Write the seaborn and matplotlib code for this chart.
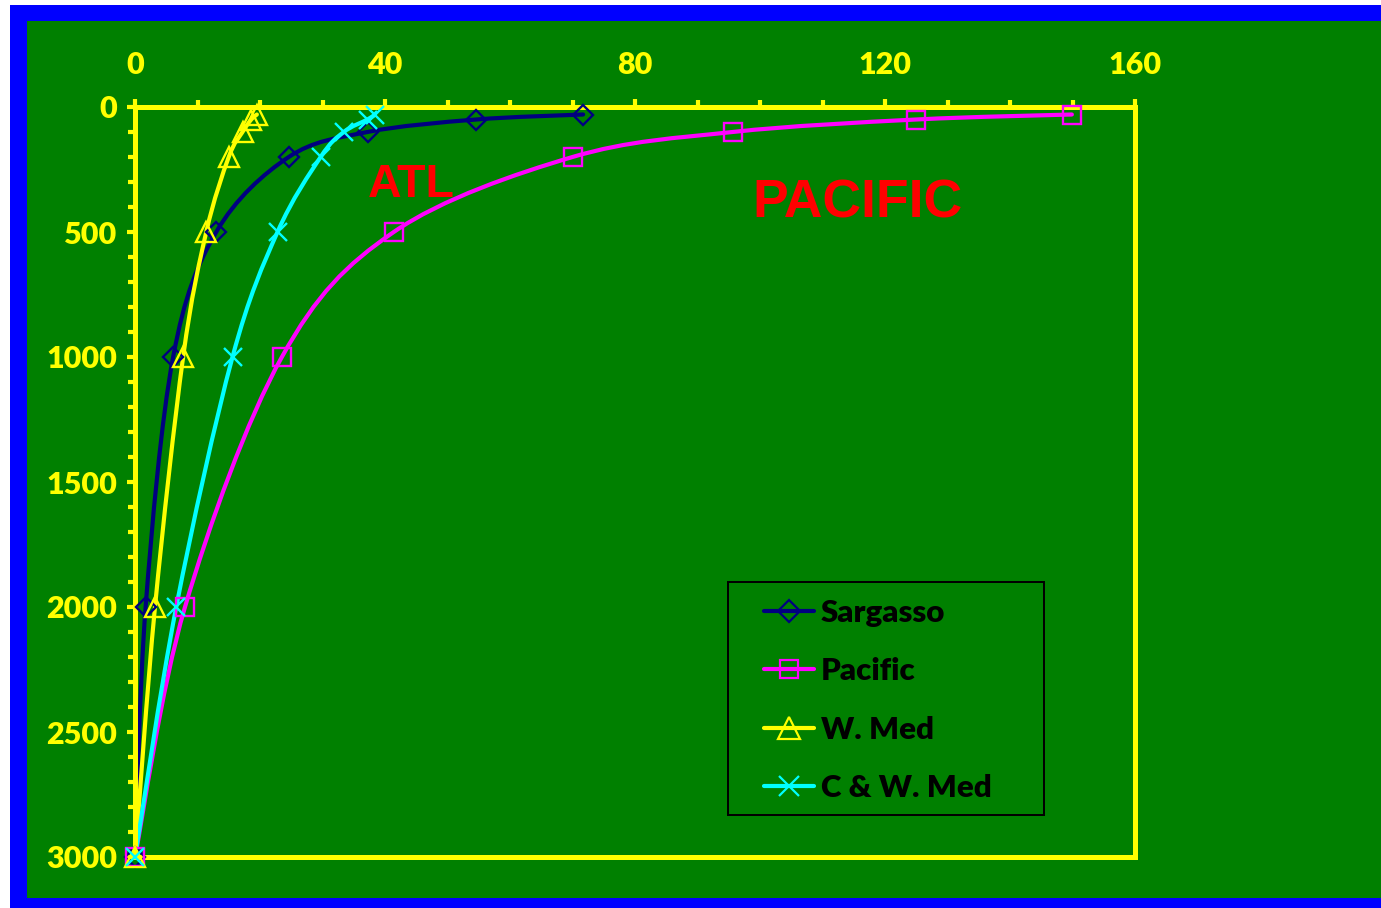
import numpy as np
import pandas as pd
import matplotlib
matplotlib.use("Agg")
import matplotlib.pyplot as plt
import seaborn as sns
from matplotlib.path import Path
from matplotlib.patches import PathPatch, Rectangle
from matplotlib.lines import Line2D
from matplotlib.ticker import MultipleLocator

# Depth (m) and concentration for each basin
depth = [30, 50, 100, 200, 500, 1000, 2000, 3000]
sargasso = [71.7, 54.6, 37.2, 24.6, 13.0, 6.1, 1.7, 0]
pacific = [149.9, 125.0, 95.6, 70.0, 41.4, 23.5, 8.0, 0]
w_med = [19.5, 18.6, 17.2, 15.0, 11.4, 7.7, 3.2, 0]
cw_med = [38.4, 37.2, 33.4, 29.7, 22.8, 15.6, 6.6, 0]

series_names = ["Sargasso", "Pacific", "W. Med", "C & W. Med"]
series_values = [sargasso, pacific, w_med, cw_med]
colors = ["#000080", "#FF00FF", "#FFFF00", "#00FFFF"]
markers = ["D", "s", "^", "x"]
msizes = [10.5, 13.0, 14.5, 13.5]

x_ticks = [0, 40, 80, 120, 160]
y_ticks = [0, 500, 1000, 1500, 2000, 2500, 3000]

GREEN = "#008000"
BLUE = "#0000FF"
YELLOW = "#FFFF00"

sns.set_theme(style="white")
plt.rcParams["font.family"] = ["Lato", "DejaVu Sans"]
plt.rcParams["font.weight"] = "heavy"

W, H = 1381, 908
fig = plt.figure(figsize=(W / 100, H / 100), dpi=100, facecolor=GREEN)

# Page border
def fig_rect(x0, y0, x1, y1, color):
    fig.patches.append(Rectangle((x0 / W, 1 - y1 / H), (x1 - x0) / W, (y1 - y0) / H,
                                 transform=fig.transFigure, facecolor=color,
                                 edgecolor="none", zorder=0))

fig_rect(0, 0, 10, H, "white")
fig_rect(0, 0, W, 5, "white")
fig_rect(10, 5, 27, H, BLUE)
fig_rect(10, 5, W, 21, BLUE)
fig_rect(10, 898, W, H, BLUE)

ax = fig.add_axes([135 / W, 1 - 857 / H, 1000 / W, 750 / H])
ax.set_facecolor(GREEN)


def smooth_path(xs, ys):
    """Cubic Bezier path through the points (Catmull-Rom style smoothing)."""
    pts = np.column_stack([xs, ys]).astype(float)
    n = len(pts)
    verts = [pts[0]]
    codes = [Path.MOVETO]
    for i in range(n - 1):
        p0 = pts[i - 1] if i > 0 else pts[i]
        p1 = pts[i]
        p2 = pts[i + 1]
        p3 = pts[i + 2] if i + 2 < n else pts[i + 1]
        c1 = p1 + (p2 - p0) / 6.0
        c2 = p2 - (p3 - p1) / 6.0
        verts += [c1, c2, p2]
        codes += [Path.CURVE4] * 3
    return Path(verts, codes)


frames = []
for name, vals in zip(series_names, series_values):
    frames.append(pd.DataFrame({"series": name, "value": vals, "depth": depth}))
df = pd.concat(frames, ignore_index=True)

for i, (name, col, mk, ms) in enumerate(zip(series_names, colors, markers, msizes)):
    sub = df[df["series"] == name]
    patch = PathPatch(smooth_path(sub["value"], sub["depth"]), facecolor="none",
                      edgecolor=col, lw=3.0, joinstyle="round", capstyle="round",
                      zorder=3 + i * 0.1)
    ax.add_patch(patch)
    sns.lineplot(data=sub, x="value", y="depth", sort=False, estimator=None,
                 ax=ax, color=col, linestyle="none", marker=mk, markersize=ms,
                 markerfacecolor="none", markeredgecolor=col, markeredgewidth=1.7,
                 clip_on=False, zorder=6 + i * 0.1, legend=False)

ax.set_xlim(0, 160)
ax.set_ylim(3000, 0)
ax.set_xlabel("")
ax.set_ylabel("")

ax.xaxis.tick_top()
ax.set_xticks(x_ticks)
ax.set_yticks(y_ticks)
ax.xaxis.set_minor_locator(MultipleLocator(10))
ax.yaxis.set_minor_locator(MultipleLocator(100))

ax.tick_params(axis="x", which="major", direction="out", length=6, width=3,
               color=YELLOW, labelcolor=YELLOW, labelsize=22, pad=14,
               top=True, bottom=False)
ax.tick_params(axis="x", which="minor", direction="out", length=4.7, width=3,
               color=YELLOW, top=True, bottom=False)
ax.tick_params(axis="y", which="major", direction="out", length=6, width=3,
               color=YELLOW, labelcolor=YELLOW, labelsize=22, pad=7,
               left=True, right=False)
ax.tick_params(axis="y", which="minor", direction="out", length=5, width=3,
               color=YELLOW, left=True, right=False)
for lab in ax.get_xticklabels() + ax.get_yticklabels():
    lab.set_fontweight("heavy")

for sp in ax.spines.values():
    sp.set_visible(True)
    sp.set_color(YELLOW)
    sp.set_linewidth(3.6)
    sp.set_zorder(4)

# Region labels
ax.text(37.3, 360, "ATL", color="#FF0000", fontsize=33.5, fontweight="bold",
        family=["Liberation Sans", "DejaVu Sans"], ha="left", va="baseline", zorder=5)
ax.text(98.7, 440, "PACIFIC", color="#FF0000", fontsize=38.5, fontweight="bold",
        family=["Liberation Sans", "DejaVu Sans"], ha="left", va="baseline", zorder=5)

# Legend
fig_rect(727, 581, 1045, 816, "black")
fig_rect(729, 583, 1043, 814, GREEN)
handles = [Line2D([0], [0], color=c, lw=3, marker=m, markersize=ms * 1.05,
                  markerfacecolor="none", markeredgecolor=c, markeredgewidth=1.6)
           for c, m, ms in zip(colors, markers, msizes)]
leg = fig.legend(handles, series_names, loc="upper left",
                 bbox_to_anchor=(764 / W, 1 - 599 / H), bbox_transform=fig.transFigure,
                 frameon=False, borderpad=0, borderaxespad=0, handlelength=1.6,
                 handletextpad=0.22, labelspacing=0.97,
                 prop={"family": ["Lato", "DejaVu Sans"], "weight": "heavy", "size": 22.5})
for t in leg.get_texts():
    t.set_color("black")

fig.savefig("out.png", dpi=100, facecolor=fig.get_facecolor())
